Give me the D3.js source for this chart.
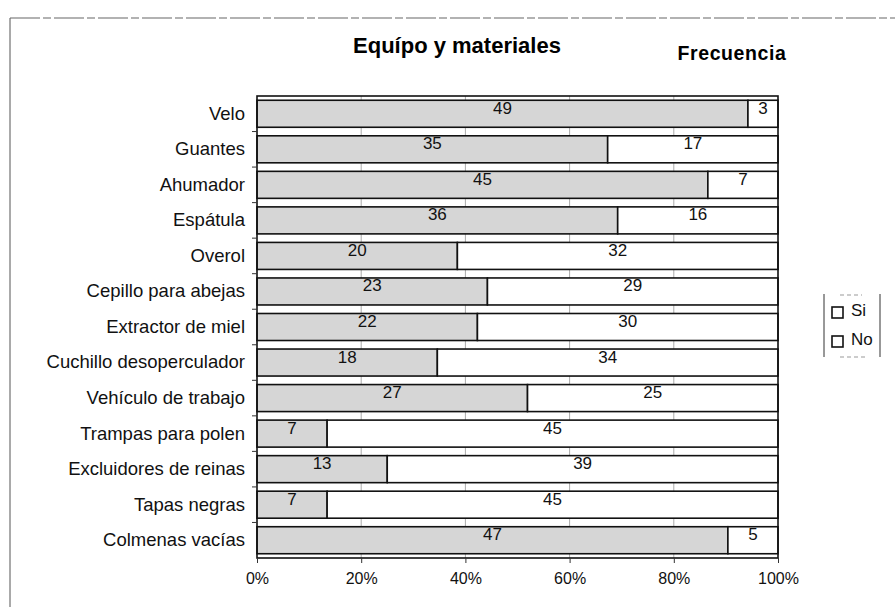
<!DOCTYPE html>
<html><head><meta charset="utf-8">
<script src="https://cdn.jsdelivr.net/npm/d3@7"></script>
<style>body{margin:0;background:#fff;}svg{display:block;font-family:Arial,"Liberation Sans",sans-serif;}</style>
</head><body>
<svg id="c" width="895" height="607"></svg>
<script>
const categories = ["Velo","Guantes","Ahumador","Espátula","Overol","Cepillo para abejas","Extractor de miel","Cuchillo desoperculador","Vehículo de trabajo","Trampas para polen","Excluidores de reinas","Tapas negras","Colmenas vacías"];
const siValues = [49,35,45,36,20,23,22,18,27,7,13,7,47];
const noValues = [3,17,7,16,32,29,30,34,25,45,39,45,5];
const seriesNames = ["Si","No"];
const tickValues = [0,0.2,0.4,0.6,0.8,1];

const FONT = "Arial, 'Liberation Sans', sans-serif";
const svg = d3.select("#c");
const m = {left:257, right:778, top:96, bottom:558};
const x = d3.scaleLinear().domain([0,1]).range([m.left,m.right]);
const y = d3.scaleBand().domain(categories).range([m.top,m.bottom]).paddingInner(0.24).paddingOuter(0.12);

// outer frame (scan border)
svg.append("line").attr("x1",10).attr("x2",10).attr("y1",18).attr("y2",607).attr("stroke","#555").attr("stroke-width",1);
svg.append("line").attr("x1",10).attr("x2",895).attr("y1",18).attr("y2",18).attr("stroke","#666").attr("stroke-width",1.2).attr("stroke-dasharray","30,3,8,3");

// title
svg.append("text").attr("x",457).attr("y",53).attr("text-anchor","middle").attr("font-size",22).attr("font-weight","bold").text("Equípo y materiales");
svg.append("text").attr("x",732).attr("y",60).attr("text-anchor","middle").attr("font-size",19.5).attr("font-weight","bold").attr("letter-spacing",0.6).text("Frecuencia");

// gridlines
svg.append("g").selectAll("line").data(tickValues.slice(1,-1)).join("line")
  .attr("x1",d=>x(d)).attr("x2",d=>x(d)).attr("y1",m.top).attr("y2",m.bottom)
  .attr("stroke","#aaa").attr("stroke-width",1);

// bars
const rows = categories.map((c,i)=>{const t=siValues[i]+noValues[i];return {c,si:siValues[i],no:noValues[i],t};});
const g = svg.append("g");
rows.forEach(r=>{
  const segs = [{k:"Si",v:r.si,x0:0,x1:r.si/r.t},{k:"No",v:r.no,x0:r.si/r.t,x1:1}];
  segs.forEach(s=>{
    g.append("rect").attr("x",x(s.x0)).attr("y",y(r.c)).attr("width",x(s.x1)-x(s.x0)).attr("height",y.bandwidth())
      .attr("fill",s.k==="Si"?"#d6d6d6":"#fff").attr("stroke","#111").attr("stroke-width",1.6);
    g.append("text").attr("x",(x(s.x0)+x(s.x1))/2).attr("y",y(r.c)+y.bandwidth()/2)
      .attr("text-anchor","middle").attr("font-size",17).attr("fill","#111").text(s.v);
  });
});

// plot border
svg.append("rect").attr("x",m.left).attr("y",m.top).attr("width",m.right-m.left).attr("height",m.bottom-m.top)
  .attr("fill","none").attr("stroke","#111").attr("stroke-width",1.6);

// x axis
const xa = svg.append("g").attr("transform",`translate(0,${m.bottom})`)
  .call(d3.axisBottom(x).tickValues(tickValues).tickFormat(d3.format(".0%")).tickSize(5).tickPadding(10));
xa.select(".domain").remove();
xa.selectAll("text").attr("font-size",16).attr("fill","#111").attr("font-family",FONT);
xa.selectAll("line").attr("stroke","#333");

// y axis
const ya = svg.append("g").attr("transform",`translate(${m.left},0)`)
  .call(d3.axisLeft(y).tickSize(0).tickPadding(12));
ya.select(".domain").remove();
ya.selectAll("text").attr("font-size",18.5).attr("fill","#111").attr("font-family",FONT);
// category boundary ticks
svg.append("g").selectAll("line").data(categories.slice(1)).join("line")
  .attr("x1",m.left-5).attr("x2",m.left).attr("y1",d=>y(d)-y.step()*y.paddingInner()/2).attr("y2",d=>y(d)-y.step()*y.paddingInner()/2)
  .attr("stroke","#333");

// legend
const lg = svg.append("g");
lg.append("line").attr("x1",824).attr("x2",824).attr("y1",294).attr("y2",357).attr("stroke","#333");
lg.append("line").attr("x1",880).attr("x2",880).attr("y1",294).attr("y2",357).attr("stroke","#333");
lg.append("line").attr("x1",840).attr("x2",862).attr("y1",295).attr("y2",295).attr("stroke","#999").attr("stroke-dasharray","4,3");
lg.append("line").attr("x1",840).attr("x2",866).attr("y1",357).attr("y2",357).attr("stroke","#999").attr("stroke-dasharray","4,3");
seriesNames.forEach((n,i)=>{
  const yy = 316 + i*29;
  lg.append("rect").attr("x",832).attr("y",yy-9).attr("width",11).attr("height",11).attr("fill","#fff").attr("stroke","#111").attr("stroke-width",1.6);
  lg.append("text").attr("x",851).attr("y",yy).attr("font-size",17).attr("fill","#111").text(n);
});
</script>
</body></html>
